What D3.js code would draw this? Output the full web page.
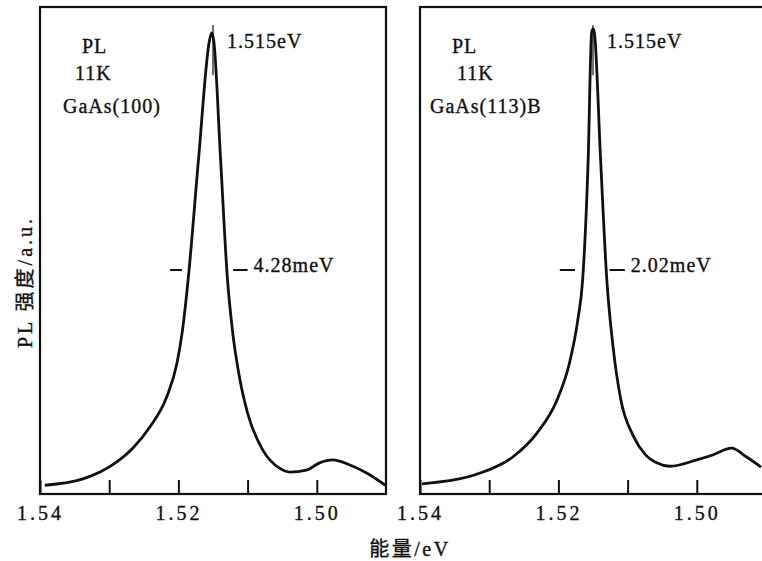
<!DOCTYPE html>
<html>
<head>
<meta charset="utf-8">
<script src="https://cdn.jsdelivr.net/npm/d3@7"></script>
<style>
  body { margin: 0; background: #fff; }
  text { font-family: "Liberation Serif", "Noto Sans CJK SC", serif; fill: #111; stroke: #111; stroke-width: 0.35px; }
</style>
</head>
<body>
<div id="chart-area"></div>
<script>
const WIDTH = 762
const HEIGHT = 561

// DATA
const tickValues = [1.54, 1.53, 1.52, 1.51, 1.50]
const tickLabels = ["1.54", "", "1.52", "", "1.50"]

const energyLeft = [1.5393, 1.5338, 1.5289, 1.5266, 1.5241, 1.5217, 1.5202, 1.5194, 1.5186, 1.5171,
  1.5155, 1.5152, 1.5149, 1.5139, 1.5129, 1.5122, 1.5111, 1.5100, 1.5078, 1.5054,
  1.5039, 1.5015, 1.4996, 1.4977, 1.4953, 1.4928, 1.4901]
const intensityLeft = [1.8, 3.1, 6.6, 9.4, 13.8, 19.9, 26.9, 33.7, 43.9, 68.6,
  93.2, 94.7, 93.2, 68.6, 43.9, 33.7, 23.4, 16.6, 9.0, 5.3,
  4.5, 4.9, 6.4, 7.0, 6.0, 4.3, 1.8]

const energyRight = [1.5397, 1.5313, 1.5266, 1.5231, 1.5202, 1.5184, 1.5172, 1.5165, 1.5157, 1.5152,
  1.5150, 1.5148, 1.5139, 1.5130, 1.5121, 1.5110, 1.5092, 1.5075, 1.5058, 1.5039, 1.5000,
  1.4977, 1.4950, 1.4928, 1.4907]
const intensityRight = [2.1, 4.3, 7.6, 12.5, 19.3, 26.9, 35.7, 43.9, 68.6, 94.7,
  95.5, 94.7, 68.6, 43.9, 30.2, 19.5, 12.0, 8.2, 6.4, 5.7, 7.0,
  8.0, 9.4, 7.6, 5.5]

const peakEnergy = 1.515
const fwhmLeft = [[1.5212, 1.5195], [1.5121, 1.5100]]
const fwhmRight = [[1.5198, 1.5176], [1.5126, 1.5104]]
const fwhmLevel = 46

const panels = [
  { left: 40, energy: energyLeft, intensity: intensityLeft, fwhm: fwhmLeft,
    notes: [["PL", 82], ["11K", 75], ["GaAs(100)", 63]], width: "4.28meV" },
  { left: 420, energy: energyRight, intensity: intensityRight, fwhm: fwhmRight,
    notes: [["PL", 452], ["11K", 457], ["GaAs(113)B", 430]], width: "2.02meV" }
]

const PANEL_W = 346
const TOP = 7
const BOTTOM = 494

const svg = d3.select("#chart-area").append("svg")
  .attr("width", WIDTH)
  .attr("height", HEIGHT)

const yScale = d3.scaleLinear()
  .domain([0, 100])
  .range([BOTTOM, TOP])

panels.forEach(p => {
  const xScale = d3.scaleLinear()
    .domain([1.54, 1.49])
    .range([p.left, p.left + PANEL_W])

  // frame
  svg.append("rect")
    .attr("x", p.left)
    .attr("y", TOP)
    .attr("width", PANEL_W)
    .attr("height", BOTTOM - TOP)
    .attr("fill", "none")
    .attr("stroke", "#111")
    .attr("stroke-width", 2.2)

  // X-AXIS, ticks pointing inward
  const xAxis = d3.axisBottom(xScale)
    .tickValues(tickValues)
    .tickFormat((d, i) => tickLabels[i])
    .tickSizeInner(-14)
    .tickSizeOuter(0)
    .tickPadding(12)

  const ax = svg.append("g")
    .attr("transform", `translate(0,${BOTTOM})`)
    .call(xAxis)
  ax.select(".domain").remove()
  ax.selectAll(".tick line").attr("stroke", "#111").attr("stroke-width", 2)
  ax.selectAll(".tick text")
    .attr("font-size", 20)
    .attr("letter-spacing", 3)
    .attr("fill", "#111")

  // spectrum
  const line = d3.line()
    .x((d, i) => xScale(p.energy[i]))
    .y(d => yScale(d))
    .curve(d3.curveMonotoneX)

  svg.append("path")
    .datum(p.intensity)
    .attr("d", line)
    .attr("fill", "none")
    .attr("stroke", "#111")
    .attr("stroke-width", 2.8)

  // peak marker
  svg.append("line")
    .attr("x1", xScale(peakEnergy)).attr("x2", xScale(peakEnergy))
    .attr("y1", yScale(95.5) - 4).attr("y2", yScale(86))
    .attr("stroke", "#111")
    .attr("stroke-width", 1.2)

  svg.append("text")
    .attr("x", xScale(peakEnergy) + 14)
    .attr("y", 48)
    .attr("font-size", 20)
    .attr("letter-spacing", 1)
    .text("1.515eV")

  // FWHM dashes
  p.fwhm.forEach(seg => {
    svg.append("line")
      .attr("x1", xScale(seg[0])).attr("x2", xScale(seg[1]))
      .attr("y1", yScale(fwhmLevel)).attr("y2", yScale(fwhmLevel))
      .attr("stroke", "#111")
      .attr("stroke-width", 2)
  })
  svg.append("text")
    .attr("x", xScale(p.fwhm[1][1]) + 6)
    .attr("y", 272)
    .attr("font-size", 20)
    .attr("letter-spacing", 1)
    .text(p.width)

  // sample notes
  const baselines = [53, 80, 113]
  p.notes.forEach((n, i) => {
    svg.append("text")
      .attr("x", n[1])
      .attr("y", baselines[i])
      .attr("font-size", 20)
      .attr("letter-spacing", 1)
      .text(n[0])
  })
})

// axis titles
svg.append("text")
  .attr("transform", "translate(32,282) rotate(-90)")
  .attr("text-anchor", "middle")
  .attr("font-size", 20)
  .attr("letter-spacing", 3)
  .text("PL 强度/a.u.")

svg.append("text")
  .attr("x", 410)
  .attr("y", 556)
  .attr("text-anchor", "middle")
  .attr("font-size", 20)
  .attr("letter-spacing", 2.5)
  .text("能量/eV")
</script>
</body>
</html>
